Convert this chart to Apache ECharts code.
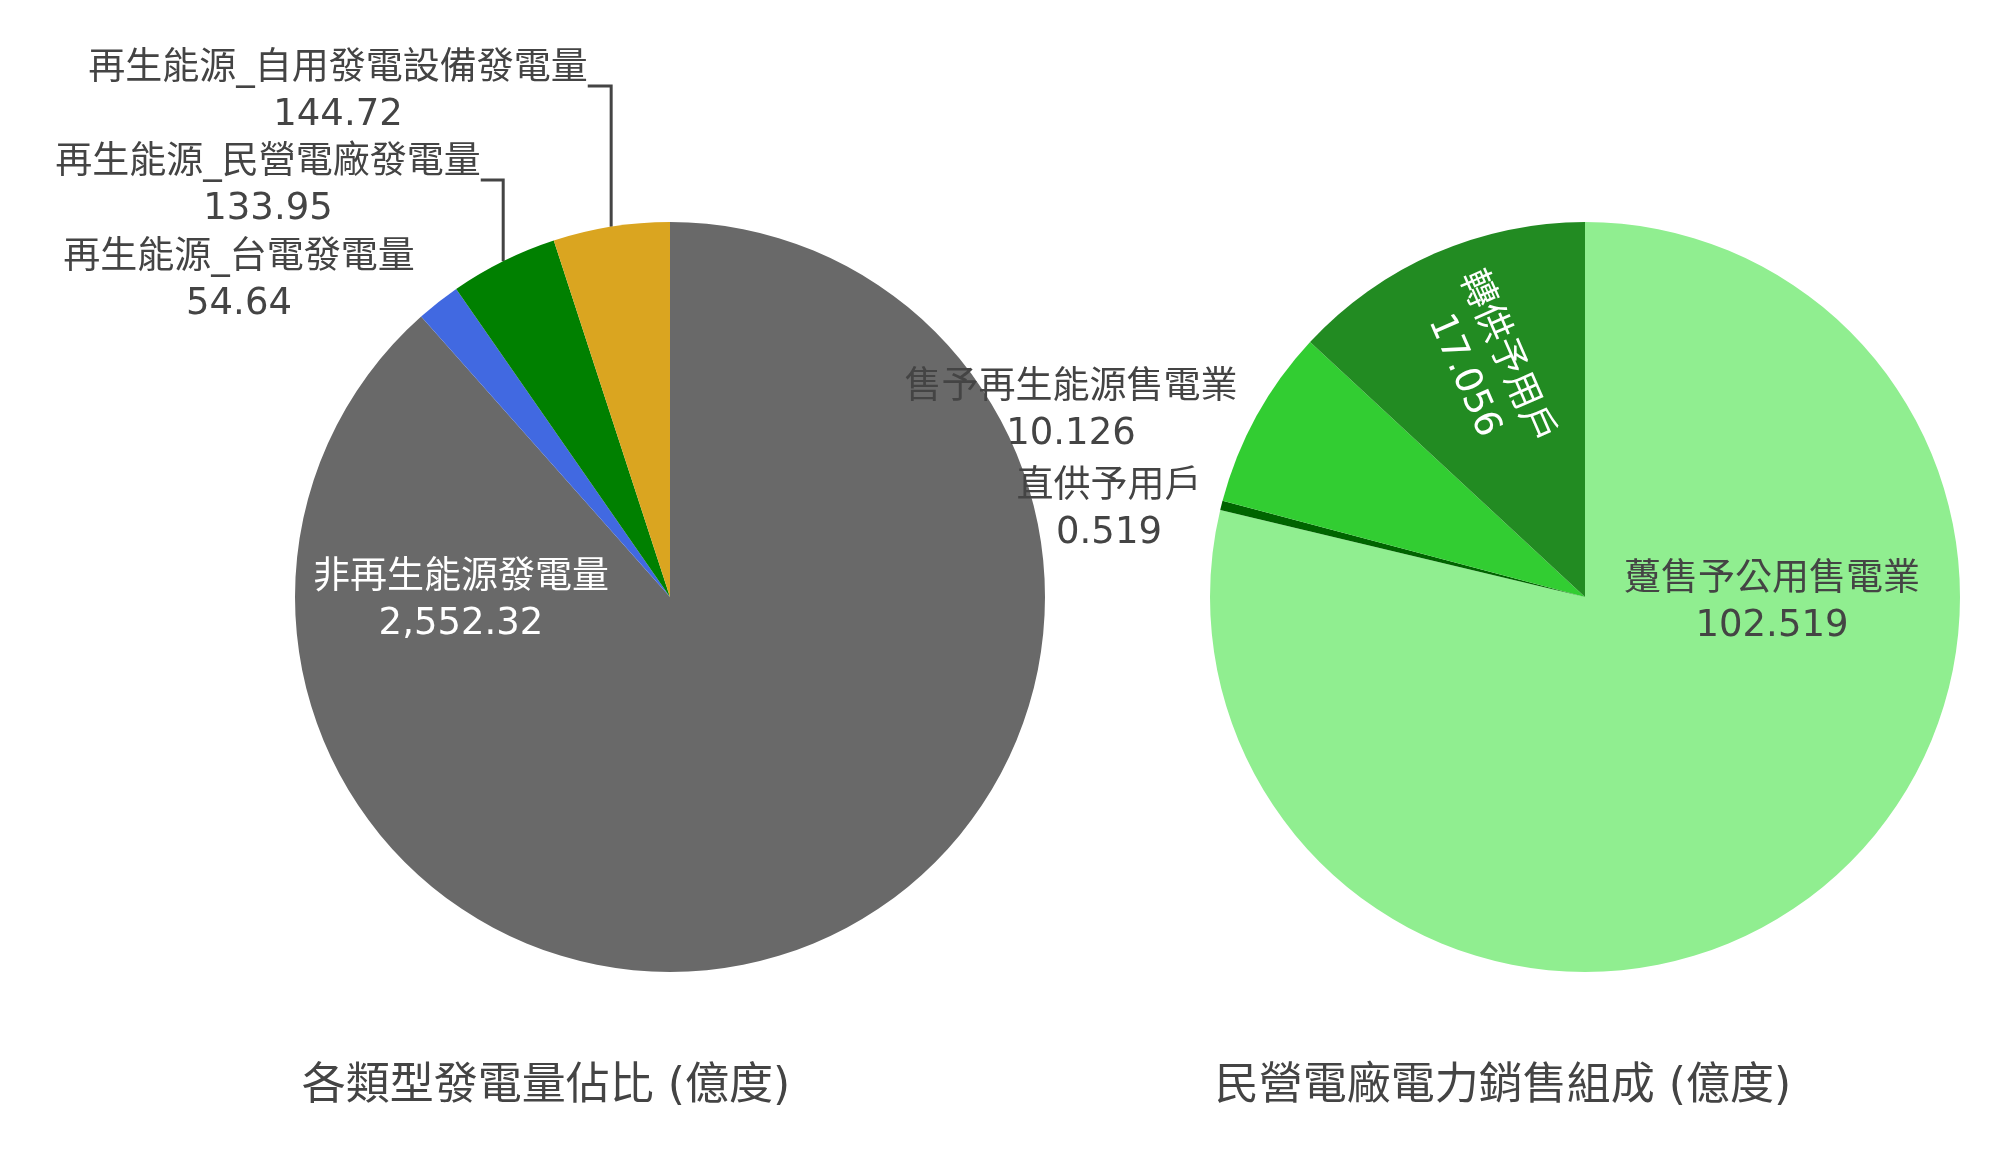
<!DOCTYPE html>
<html><head><meta charset="utf-8">
<script src="https://cdn.jsdelivr.net/npm/echarts@6/dist/echarts.min.js"></script>
<style>html,body{margin:0;padding:0;background:#fff}#c{width:1992px;height:1150px}</style>
</head><body><div id="c"></div>
<script>
// ---- data ----
const genNames = ['非再生能源發電量', '再生能源_台電發電量', '再生能源_民營電廠發電量', '再生能源_自用發電設備發電量'];
const genValues = [2552.32, 54.64, 133.95, 144.72];
const salesNames = ['躉售予公用售電業', '直供予用戶', '售予再生能源售電業', '轉供予用戶'];
const salesValues = [102.519, 0.519, 10.126, 17.056];
const chartTitles = ['各類型發電量佔比 (億度)', '民營電廠電力銷售組成 (億度)'];

// ---- styles / layout ----
const FONT = "'DejaVu Sans','Noto Sans CJK TC',sans-serif";
const TEXT = '#444444';
const genColors = ['#696969', '#4169E1', '#008000', '#DAA520'];
const salesColors = ['#90EE90', '#006400', '#32CD32', '#228B22'];
const pies = [{center: [670, 597], r: 375}, {center: [1585, 597], r: 375}];
const titleSpots = [{x: 546, y: 1088}, {x: 1503, y: 1088}];
const genLabelSpots = [
  {x: 461, y: 601, inside: true, color: '#ffffff'},
  {x: 239, y: 281},
  {x: 268, y: 186, line: true},
  {x: 338, y: 92, line: true}
];
const salesLabelSpots = [
  {x: 1772, y: 603, inside: true, color: TEXT},
  {x: 1109, y: 510},
  {x: 1071, y: 411},
  {radial: 0.67, inside: true, color: '#ffffff'}
];

function fmt(v) { return v.toLocaleString('en-US', {maximumFractionDigits: 3}); }

function makeLayout(values, spots, pie) {
  const total = values.reduce((a, b) => a + b, 0);
  return function (p) {
    const i = p.dataIndex, s = spots[i];
    let before = 0;
    for (let k = 0; k < i; k++) before += values[k];
    const cw = (before + values[i] / 2) / total * 2 * Math.PI;
    const cx = pie.center[0], cy = pie.center[1], R = pie.r;
    if (s.radial) {
      const rr = R * s.radial;
      const rot = -Math.atan2(Math.cos(cw), -Math.sin(cw)) * 180 / Math.PI;
      return {x: cx + rr * Math.sin(cw), y: cy - rr * Math.cos(cw), rotate: rot, align: 'center', verticalAlign: 'middle'};
    }
    const out = {x: s.x, y: s.y, align: 'center', verticalAlign: 'middle'};
    if (s.line) {
      const ex = cx + R * Math.sin(cw), ey = cy - R * Math.cos(cw);
      const ly = s.y - 6;
      const right = s.x + p.labelRect.width / 2;
      out.labelLinePoints = [[ex, ey], [ex, ly], [right, ly]];
    }
    return out;
  };
}

function buildData(names, values, colors, spots) {
  return names.map((n, i) => {
    const s = spots[i];
    return {
      name: n, value: values[i],
      itemStyle: {color: colors[i]},
      label: {position: s.inside ? 'inside' : 'outside', color: s.color || TEXT},
      labelLine: {show: !!s.line}
    };
  });
}

function buildSeries(names, values, colors, spots, pie) {
  return {
    type: 'pie',
    center: pie.center,
    radius: pie.r,
    startAngle: 90,
    clockwise: true,
    avoidLabelOverlap: false,
    silent: true,
    itemStyle: {borderWidth: 0},
    label: {
      show: true,
      fontFamily: FONT, fontSize: 37, lineHeight: 46,
      formatter: p => p.name + '\n' + fmt(p.value)
    },
    labelLine: {show: true, length: 10, length2: 10, smooth: false, lineStyle: {color: TEXT, width: 3}},
    labelLayout: makeLayout(values, spots, pie),
    emphasis: {disabled: true},
    data: buildData(names, values, colors, spots)
  };
}

const chart = echarts.init(document.getElementById('c'), null, {renderer: 'canvas'});
chart.setOption({
  backgroundColor: '#ffffff',
  animation: false,
  tooltip: {show: false},
  series: [
    buildSeries(genNames, genValues, genColors, genLabelSpots, pies[0]),
    buildSeries(salesNames, salesValues, salesColors, salesLabelSpots, pies[1])
  ],
  graphic: chartTitles.map((t, i) => ({
    type: 'text', x: titleSpots[i].x, y: titleSpots[i].y, silent: true,
    style: {text: t, fill: TEXT, fontSize: 44, fontFamily: FONT, align: 'center', verticalAlign: 'middle'}
  }))
});
</script>
</body></html>
